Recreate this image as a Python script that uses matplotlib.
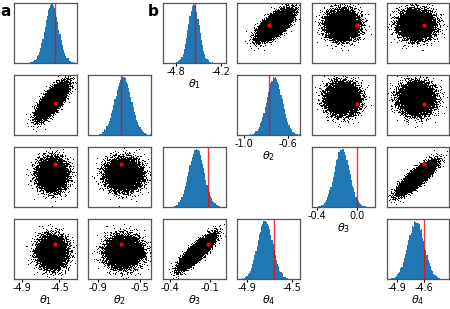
import numpy as np
import matplotlib.pyplot as plt

plt.rcParams['axes.unicode_minus'] = False

names = [r'$\theta_1$', r'$\theta_2$', r'$\theta_3$', r'$\theta_4$']

# panel a: posterior summary
a_mean = [-4.58, -0.66, -0.20, -4.74]
a_sd = [0.071, 0.078, 0.058, 0.069]
a_rho = [0.75, 0.85]          # (theta1, theta2), (theta3, theta4)
a_true = [-4.545, -0.68, -0.117, -4.66]
a_lim = [(-4.98, -4.32), (-0.99, -0.40), (-0.45, 0.02), (-4.99, -4.43)]
a_ticks = [[-4.9, -4.5], [-0.9, -0.5], [-0.4, -0.1], [-4.9, -4.5]]

# panel b
b_mean = [-4.56, -0.72, -0.15, -4.69]
b_sd = [0.074, 0.07, 0.077, 0.09]
b_rho = [0.7, 0.85]
b_true = [-4.55, -0.77, 0.0, -4.60]
b_lim = [(-4.97, -4.13), (-1.06, -0.49), (-0.45, 0.18), (-5.01, -4.33)]
b_ticks = [[-4.8, -4.2], [-1.0, -0.6], [-0.4, 0.0], [-4.9, -4.6]]
b_row_lim = [(-4.97, -4.31), (-1.06, -0.49), (-0.45, 0.18), (-5.01, -4.33)]

n_samples = 9000


def halton(n, base):
    i = np.arange(1, n + 1)
    out = np.zeros(n)
    f = 1.0
    while np.any(i > 0):
        f /= base
        out += f * (i % base)
        i //= base
    return out


def draws(mean, sd, rho, n):
    u = [halton(n, b) for b in (2, 3, 5, 7)]
    r1 = np.sqrt(-2 * np.log(u[0]))
    r2 = np.sqrt(-2 * np.log(u[2]))
    z = [r1 * np.cos(2 * np.pi * u[1]), r1 * np.sin(2 * np.pi * u[1]),
         r2 * np.cos(2 * np.pi * u[3]), r2 * np.sin(2 * np.pi * u[3])]
    x = [z[0], rho[0] * z[0] + np.sqrt(1 - rho[0] ** 2) * z[1],
         z[2], rho[1] * z[2] + np.sqrt(1 - rho[1] ** 2) * z[3]]
    return [m + s * xi for m, s, xi in zip(mean, sd, x)]


sa = draws(a_mean, a_sd, a_rho, n_samples)
sb = draws(b_mean, b_sd, b_rho, n_samples)

fig = plt.figure(figsize=(4.5, 3.09), dpi=100)
W, H = 450.0, 309.0
col_left = [14, 88.3, 163.3, 237.3, 312.3, 386.7]
row_top = [2.7, 75, 147, 219.3]
aw, ah = 62.5, 60


def make_ax(r, c):
    ax = fig.add_axes([col_left[c] / W, 1 - (row_top[r] + ah) / H, aw / W, ah / H])
    for sp in ax.spines.values():
        sp.set_color('#555555')
        sp.set_linewidth(0.9)
    ax.set_xticks([])
    ax.set_yticks([])
    return ax


def label_x(ax, ticks, name):
    ax.set_xticks(ticks)
    ax.set_xticklabels([f'{t:.1f}' for t in ticks], fontsize=7)
    ax.tick_params(axis='x', length=2, pad=1)
    ax.set_xlabel(name, fontsize=8, labelpad=0)


def hist_ax(ax, s, lim, true):
    counts, _, _ = ax.hist(s, bins=55, range=lim, color='C0')
    ax.axvline(true, color='red', lw=1, alpha=0.8)
    ax.set_xlim(lim)
    ax.set_ylim(0, counts.max() * 1.03)


def scatter_ax(ax, x, y, xl, yl, tx, ty):
    ax.plot(x, y, ',', color='k', rasterized=True)
    ax.plot(tx, ty, 'o', color='red', ms=3, mec='none')
    ax.set_xlim(xl)
    ax.set_ylim(yl)


# panel a: lower triangle in columns 0-3
for i in range(4):
    for j in range(i + 1):
        ax = make_ax(i, j)
        if i == j:
            hist_ax(ax, sa[i], a_lim[i], a_true[i])
        else:
            scatter_ax(ax, sa[j], sa[i], a_lim[j], a_lim[i], a_true[j], a_true[i])
        if i == 3:
            label_x(ax, a_ticks[j], names[j])

# panel b: upper triangle in columns 2-5
for i in range(4):
    for j in range(i, 4):
        ax = make_ax(i, j + 2)
        if i == j:
            hist_ax(ax, sb[i], b_lim[i], b_true[i])
            label_x(ax, b_ticks[i], names[i])
        else:
            scatter_ax(ax, sb[j], sb[i], b_lim[j], b_row_lim[i], b_true[j], b_true[i])

fig.text(0.0, 1 - 11 / H, 'a', fontsize=11, fontweight='bold', va='center')
fig.text(148 / W, 1 - 11 / H, 'b', fontsize=11, fontweight='bold', va='center')

fig.savefig('out.png', dpi=100)
